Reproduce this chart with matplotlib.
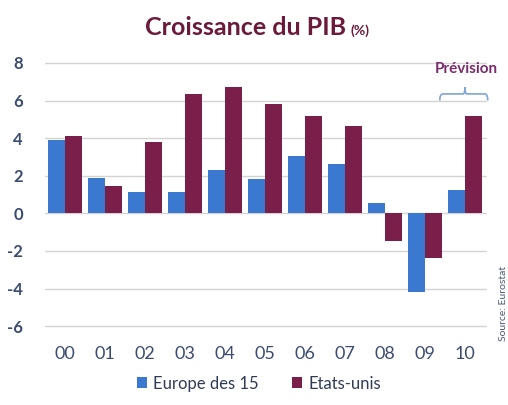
import matplotlib.pyplot as plt
import numpy as np
from matplotlib.patches import PathPatch
from matplotlib.path import Path

plt.rcParams['font.family'] = ['Lato', 'DejaVu Sans']

annees = ["00", "01", "02", "03", "04", "05", "06", "07", "08", "09", "10"]
europe = [3.9, 1.9, 1.15, 1.15, 2.3, 1.8, 3.05, 2.6, 0.55, -4.2, 1.25]
etats_unis = [4.1, 1.45, 3.8, 6.35, 6.7, 5.8, 5.15, 4.65, -1.45, -2.35, 5.2]
graduations = [-6, -4, -2, 0, 2, 4, 6, 8]

bleu = "#3a79cf"
bordeaux = "#7a1e4a"
texte = "#3b4c70"

fig = plt.figure(figsize=(5.08, 4.05), dpi=100)
ax = fig.add_axes([0.0886, 0.19, 0.870, 0.657])

x = np.arange(len(annees))
w = 0.42
ax.bar(x - w / 2, europe, w, color=bleu, label="Europe des 15", zorder=3)
ax.bar(x + w / 2, etats_unis, w, color=bordeaux, label="Etats-unis", zorder=3)

ax.set_xlim(-0.5, 10.55)
ax.set_ylim(-6.1, 8.05)
ax.set_yticks(graduations)
ax.set_yticklabels([str(g) for g in graduations])
ax.set_xticks(x)
ax.set_xticklabels(annees)
ax.grid(axis="y", color="#d4d4d4", linewidth=1, zorder=0)
for s in ax.spines.values():
    s.set_visible(False)
ax.tick_params(length=0)
ax.tick_params(axis="y", pad=16, labelsize=12, labelcolor=texte)
ax.tick_params(axis="x", pad=13, labelsize=13, labelcolor=texte)
for t in ax.get_yticklabels():
    t.set_fontweight("bold")

# titre
fig.text(0.682, 0.932, "Croissance du PIB", ha="right", va="center",
         fontsize=18, fontweight="bold", color="#6b1a3c")
fig.text(0.69, 0.925, "(%)", ha="left", va="center",
         fontsize=10, fontweight="bold", color="#6b1a3c")

# prevision
ax.text(10.03, 7.65, "Prévision", ha="center", va="center", fontsize=11,
        fontweight="bold", color="#7a2a6a", clip_on=False)
verts = [(9.37, 6.0), (9.37, 6.35), (9.45, 6.35), (9.95, 6.35),
         (10.0, 6.35), (10.0, 6.7), (10.0, 6.7), (10.0, 6.35), (10.05, 6.35),
         (10.5, 6.35), (10.57, 6.35), (10.57, 6.0)]
codes = [Path.MOVETO, Path.CURVE3, Path.CURVE3, Path.LINETO,
         Path.CURVE3, Path.CURVE3, Path.MOVETO, Path.CURVE3, Path.CURVE3,
         Path.LINETO, Path.CURVE3, Path.CURVE3]
ax.add_patch(PathPatch(Path(verts, codes), fill=False, edgecolor="#7ea6d6",
                       linewidth=1.2, clip_on=False, zorder=4))

# legende
leg = fig.legend(loc="center", bbox_to_anchor=(0.51, 0.053), ncol=2, frameon=False,
                 fontsize=12, handlelength=0.6, handleheight=0.6, columnspacing=2.0,
                 handletextpad=0.4)
for t in leg.get_texts():
    t.set_color("#2f3b55")

fig.text(0.982, 0.25, "Source: Eurostat", rotation=90, ha="left", va="center",
         fontsize=7.5, color="#4a5a7a")

fig.savefig("out.png", dpi=100)
